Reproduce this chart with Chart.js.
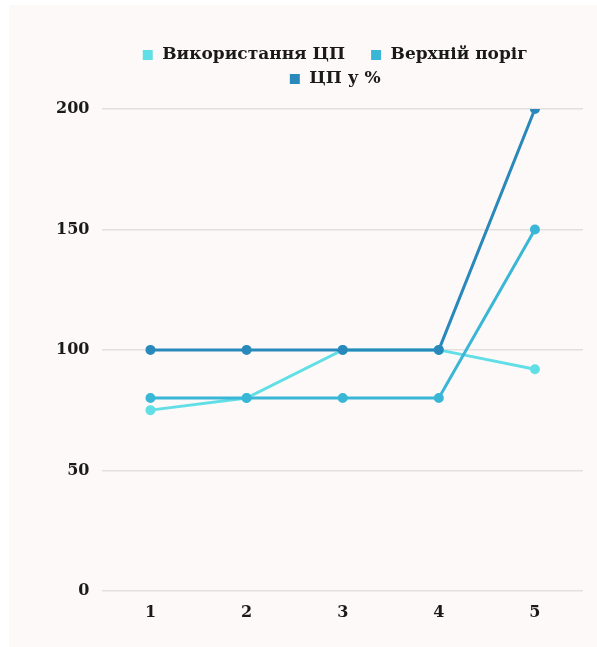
<!DOCTYPE html>
<html>
<head>
<meta charset="utf-8">
<script src="https://cdn.jsdelivr.net/npm/chart.js@4"></script>
<style>
  html, body { margin: 0; padding: 0; background: #ffffff; }
  #tarjeta {
    position: absolute; left: 9px; top: 5px;
    width: 588px; height: 642px;
    background: #fdf9f8;
  }
  #tarjeta canvas { display: block; }
</style>
</head>
<body>
<div id="tarjeta"><canvas id="grafico-cpu" width="588" height="642"></canvas></div>
<script>
// Datos
const categorias = ['1', '2', '3', '4', '5'];
const usoCpu = [75, 80, 100, 100, 92];
const umbralSuperior = [80, 80, 80, 80, 150];
const cpuPorcentaje = [100, 100, 100, 100, 200];
const ticksY = [0, 50, 100, 150, 200];

const colores = ['#62dfe6', '#3ab6d6', '#2a89bb'];
const fuente = "'DejaVu Serif', serif";

// Cuadradito de la leyenda con hueco a la izquierda (separa los elementos)
const cuadrito = (color) => {
  const c = document.createElement('canvas');
  c.width = 30;
  c.height = 10;
  const ctx = c.getContext('2d');
  ctx.fillStyle = color;
  ctx.fillRect(19, 0, 10, 10);
  return c;
};

// order: la última serie se pinta encima, como en el original
const serie = (label, data, color, order) => ({
  label,
  data,
  order,
  borderColor: color,
  backgroundColor: color,
  borderWidth: 3,
  pointRadius: 3.5,
  pointHoverRadius: 3.5,
  pointStyle: 'circle',
  tension: 0,
});

// Coloca la leyenda como en el original
const moverLeyenda = {
  id: 'moverLeyenda',
  afterLayout(chart) {
    const lg = chart.legend;
    lg.left -= 17;
    lg.right -= 17;
    lg.top -= 12;
    lg.bottom -= 12;
  }
};

const config = {
  type: 'line',
  data: {
    labels: categorias,
    datasets: [
      serie('Використання ЦП', usoCpu, colores[0], 2),
      serie('Верхній поріг', umbralSuperior, colores[1], 1),
      serie('ЦП у %', cpuPorcentaje, colores[2], 0),
    ]
  },
  options: {
    responsive: false,
    animation: false,
    layout: { padding: { left: 34, right: 14, top: 46, bottom: 21 } },
    plugins: {
      legend: {
        position: 'top',
        fullSize: false,
        labels: {
          usePointStyle: true,
          pointStyleWidth: 30,
          boxHeight: 10,
          padding: 7,
          color: '#1a1a1a',
          font: { family: fuente, size: 17, weight: 'bold' },
          generateLabels: (chart) => chart.data.datasets.map((ds, i) => ({
            text: ds.label,
            fillStyle: colores[i],
            strokeStyle: colores[i],
            lineWidth: 0,
            pointStyle: cuadrito(colores[i]),
            fontColor: '#1a1a1a',
            datasetIndex: i,
            hidden: false,
          })),
        }
      },
      tooltip: { enabled: false }
    },
    scales: {
      x: {
        offset: true,
        grid: { display: false },
        border: { display: false },
        ticks: { color: '#1a1a1a', font: { family: fuente, size: 16, weight: 'bold' }, padding: 4 }
      },
      y: {
        min: 0,
        max: 200,
        afterBuildTicks: (axis) => { axis.ticks = ticksY.map(v => ({ value: v })); },
        grid: { color: '#e4e0de', lineWidth: 1.5, drawTicks: false },
        border: { display: false },
        ticks: { color: '#1a1a1a', font: { family: fuente, size: 16, weight: 'bold' }, padding: 13 }
      }
    }
  },
  plugins: [moverLeyenda]
};

new Chart(document.querySelector('#grafico-cpu').getContext('2d'), config);
</script>
</body>
</html>
